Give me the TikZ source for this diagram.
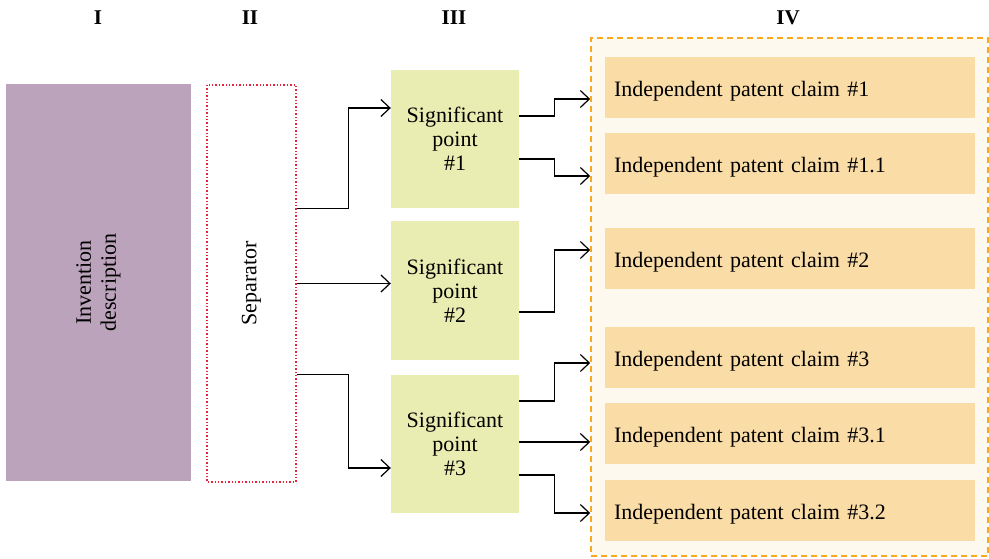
\documentclass[tikz,border=0pt]{standalone}
\usepackage{fontspec}
\setmainfont{Liberation Serif}
\usetikzlibrary{arrows.meta,positioning,calc}
\definecolor{invcol}{HTML}{BBA3BB}
\definecolor{sepred}{HTML}{E8233A}
\definecolor{pointcol}{HTML}{EAEDB1}
\definecolor{claimcol}{HTML}{FADCA7}
\definecolor{groupfill}{HTML}{FEF9EE}
\definecolor{grouporange}{HTML}{F9A91E}
\tikzset{
  header/.style={font=\fontsize{21}{24}\selectfont\bfseries},
  invbox/.style={fill=invcol, minimum width=397pt, minimum height=185pt, align=center, inner sep=0pt, font=\fontsize{22}{25}\selectfont},
  sepbox/.style={draw=sepred, line width=1.4pt, dash pattern=on 1.4pt off 2pt, minimum width=397pt, minimum height=89pt, inner sep=0pt, font=\fontsize{22}{25}\selectfont},
  pointbox/.style={fill=pointcol, minimum width=128pt, minimum height=138pt, align=center, inner sep=0pt, font=\fontsize{22}{24}\selectfont},
  claimbox/.style={fill=claimcol, minimum height=61pt, text width=352pt, text height=18pt, text depth=0pt, align=left, inner xsep=9pt, inner ysep=0pt, font=\fontsize{22}{25}\selectfont},
  groupbox/.style={draw=grouporange, fill=groupfill, line width=1.6pt, dash pattern=on 6pt off 4pt, minimum width=397pt, minimum height=518pt},
  link/.style={-{Straight Barb[length=9pt,width=17pt]}, line width=1.2pt}
}

\begin{document}
\begin{tikzpicture}[x=1pt,y=-1pt]
\useasboundingbox (0,0) rectangle (989,559);
% column headers
\node[header] (h1) at (98,18) {I};
\node[header] (h2) at (250,18) {II};
\node[header] (h3) at (454,18) {III};
\node[header] (h4) at (788,18) {IV};
% description and separator
\node[invbox, rotate=90] (inv) at (98.5,282.5) {Invention\\description};
\node[sepbox, rotate=90] (sep) at (251.5,283.5) {Separator};
% significant points
\node[pointbox] (sp1) at (455,139) {Significant\\point\\\#1};
\node[pointbox] (sp2) at (455,290.5) {Significant\\point\\\#2};
\node[pointbox] (sp3) at (455,444) {Significant\\point\\\#3};
% claims
\node[groupbox] (grp) at (789.5,297) {};
\node[claimbox] (cl1) at (790,87.5) {Independent patent claim \#1};
\node[claimbox] (cl11) at (790,163.5) {Independent patent claim \#1.1};
\node[claimbox] (cl2) at (790,258.5) {Independent patent claim \#2};
\node[claimbox] (cl3) at (790,357.5) {Independent patent claim \#3};
\node[claimbox] (cl31) at (790,433.5) {Independent patent claim \#3.1};
\node[claimbox] (cl32) at (790,510.5) {Independent patent claim \#3.2};
% separator -> points
\draw[link] (sep.south |- sp1.south) -- ++(52,0) |- ($(sp1.west)+(0,-31)$);
\draw[link] (sep.south) -- (sep.south -| sp2.west);
\draw[link] (sep.south |- sp3.north) -- ++(52,0) |- ($(sp3.west)+(0,24)$);
% points -> claims
\draw[link] ($(sp1.east)+(0,-23)$) -- ++(35,0) |- ($(grp.west |- cl1)+(0,11.5)$);
\draw[link] ($(sp1.east)+(0,20)$) -- ++(35,0) |- ($(grp.west |- cl11)+(0,12.5)$);
\draw[link] ($(sp2.east)+(0,21.5)$) -- ++(35,0) |- ($(grp.west |- cl2)+(0,-8.5)$);
\draw[link] ($(sp3.east)+(0,-43)$) -- ++(35,0) |- ($(grp.west |- cl3)+(0,5.5)$);
\draw[link] ($(sp3.east)+(0,-2)$) -- ($(grp.west |- sp3.east)+(0,-2)$);
\draw[link] ($(sp3.east)+(0,31)$) -- ++(35,0) |- ($(grp.west |- cl32)+(0,2.5)$);
\end{tikzpicture}
\end{document}
